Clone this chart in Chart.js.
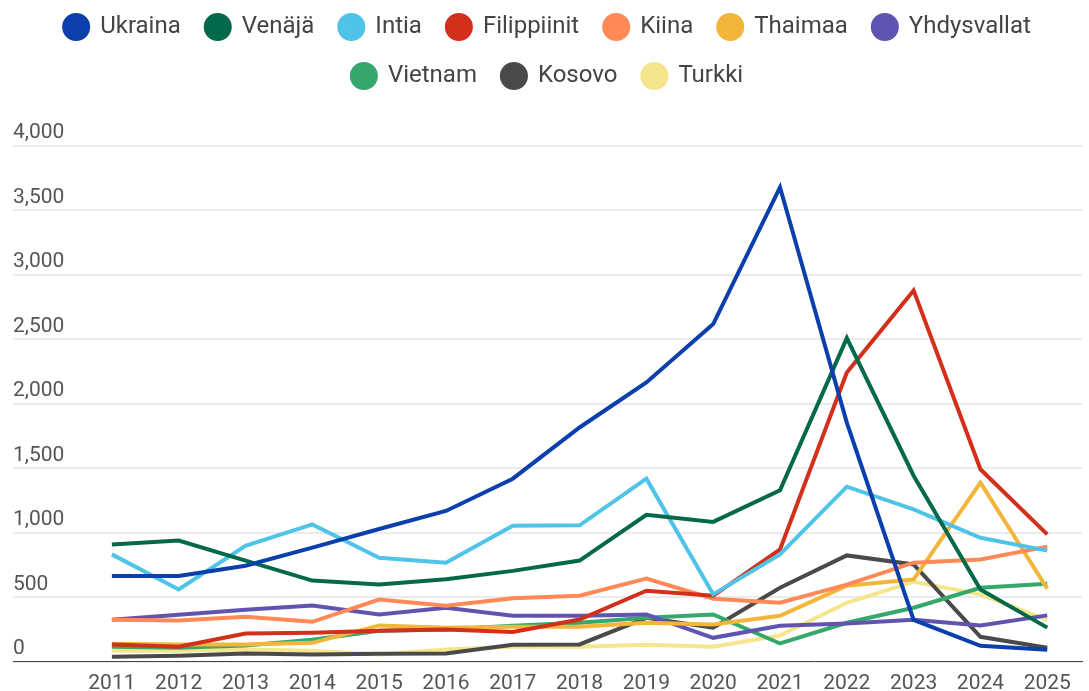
<!DOCTYPE html>
<html>
<head>
<meta charset="utf-8">
<script src="https://cdn.jsdelivr.net/npm/chart.js@4/dist/chart.umd.min.js"></script>
<style>
  html, body { margin: 0; padding: 0; background: #ffffff; }
  #wrap { width: 1089px; height: 691px; position: relative; }
</style>
</head>
<body>
<div id="wrap"><canvas id="chart"></canvas></div>
<script>
const years = [2011, 2012, 2013, 2014, 2015, 2016, 2017, 2018, 2019, 2020, 2021, 2022, 2023, 2024, 2025];
const seriesNames = ["Ukraina", "Venäjä", "Intia", "Filippiinit", "Kiina", "Thaimaa", "Yhdysvallat", "Vietnam", "Kosovo", "Turkki"];

const ukraina     = [665, 665, 745, 885, 1030, 1170, 1420, 1817, 2166, 2619, 3680, 1855, 325, 124, 93];
const venaja      = [910, 940, 785, 630, 600, 640, 705, 785, 1140, 1085, 1330, 2510, 1443, 560, 265];
const intia       = [833, 561, 900, 1066, 807, 768, 1055, 1058, 1420, 523, 833, 1358, 1182, 962, 862];
const filippiinit = [135, 117, 220, 225, 240, 250, 232, 328, 551, 512, 871, 2243, 2880, 1493, 988];
const kiina       = [326, 320, 349, 310, 483, 434, 492, 512, 645, 489, 458, 598, 769, 794, 893];
const thaimaa     = [140, 135, 135, 147, 282, 264, 272, 272, 303, 290, 357, 590, 639, 1390, 567];
const yhdysvallat = [326, 365, 404, 437, 367, 419, 357, 357, 367, 186, 279, 297, 326, 282, 360];
const vietnam     = [117, 109, 127, 171, 240, 250, 279, 303, 341, 367, 142, 303, 419, 574, 606];
const kosovo      = [39, 46, 64, 57, 62, 64, 132, 135, 341, 264, 574, 825, 755, 194, 109];
const turkki      = [85, 85, 95, 85, 57, 95, 117, 117, 132, 117, 204, 458, 621, 523, 326];

const yTicks = [0, 500, 1000, 1500, 2000, 2500, 3000, 3500, 4000];

const seriesValues = [ukraina, venaja, intia, filippiinit, kiina, thaimaa, yhdysvallat, vietnam, kosovo, turkki];
const seriesColors = ["#0a3fac", "#03694a", "#4fc3e8", "#d3301c", "#ff8a57", "#f3b53a", "#5f55b0", "#36a86b", "#4a4a4a", "#f5e58c"];

const fontFamily = "Roboto, 'Noto Sans', Arial, sans-serif";
Chart.defaults.font.family = fontFamily;

// push the plot down below the two legend rows
const legendGap = {
  id: "legendGap",
  beforeInit(chart) {
    const origFit = chart.legend.fit;
    chart.legend.fit = function () {
      origFit.bind(chart.legend)();
      this.height += 48;
    };
  }
};

new Chart(document.getElementById("chart"), {
  type: "line",
  data: {
    datasets: seriesNames.map((name, i) => ({
      label: name,
      data: years.map((y, j) => ({ x: y, y: seriesValues[i][j] })),
      borderColor: seriesColors[i],
      backgroundColor: seriesColors[i],
      borderWidth: 4,
      pointRadius: 0,
      tension: 0,
      fill: false
    }))
  },
  options: {
    responsive: true,
    maintainAspectRatio: false,
    animation: false,
    locale: "en-US",
    layout: { padding: { left: 13, right: 7, top: -10, bottom: -14 } },
    plugins: {
      legend: {
        position: "top",
        labels: {
          usePointStyle: true,
          pointStyle: "circle",
          boxHeight: 17,
          color: "#444444",
          padding: 25,
          font: { size: 24 }
        }
      },
      tooltip: { enabled: false }
    },
    scales: {
      x: {
        type: "linear",
        min: 2009.52,
        max: 2025.52,
        afterBuildTicks(scale) {
          scale.ticks = years.map((v) => ({ value: v }));
        },
        grid: { display: false, drawTicks: false },
        border: { display: true, color: "#444444", width: 1 },
        ticks: {
          color: "#555555",
          padding: 9,
          maxRotation: 0,
          autoSkip: false,
          font: { size: 21 },
          callback(value) { return String(value); }
        }
      },
      y: {
        min: 0,
        max: 4000,
        afterBuildTicks(scale) {
          scale.ticks = yTicks.map((v) => ({ value: v }));
        },
        grid: { color: "#ebebeb", lineWidth: 2, drawTicks: false },
        border: { display: false },
        ticks: {
          mirror: true,
          padding: 0,
          labelOffset: -13,
          color: "#555555",
          font: { size: 21 },
          callback(value) { return Number(value).toLocaleString("en-US"); }
        }
      }
    }
  },
  plugins: [legendGap]
});
</script>
</body>
</html>
